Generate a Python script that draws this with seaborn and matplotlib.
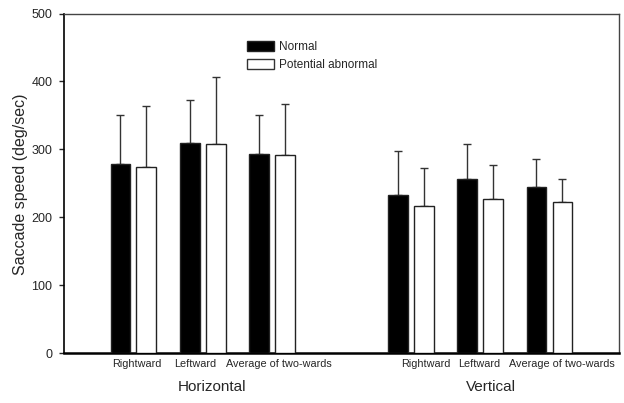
import matplotlib
matplotlib.use("Agg")
import matplotlib.pyplot as plt
import matplotlib.transforms as mtransforms
from matplotlib.patches import Patch
import seaborn as sns
import pandas as pd
import numpy as np

# ---- data ----
conditions = ["H Rightward", "H Leftward", "H Average", "V Rightward", "V Leftward", "V Average"]
tick_labels = ["Rightward", "Leftward", "Average of two-wards"]
groups = ["Normal", "Potential abnormal"]
normal_mean = [278, 310, 293, 232, 256, 244]
normal_sd = [72, 62, 57, 65, 52, 42]
abnormal_mean = [274, 308, 291, 216, 227, 222]
abnormal_sd = [90, 98, 75, 56, 50, 35]
axis_groups = ["Horizontal", "Vertical"]

sns.set_style("white")
plt.rcParams['font.family'] = ['Liberation Sans', 'DejaVu Sans']

df = pd.DataFrame({
    "cond": conditions * 2,
    "speed": normal_mean + abnormal_mean,
    "group": [groups[0]] * 6 + [groups[1]] * 6,
})
order = conditions[:3] + ["__gap__"] + conditions[3:]

fig = plt.figure(figsize=(6.24, 4.03), dpi=100)
ax = fig.add_axes([0.1026, 0.124, 0.889, 0.8425])

sns.barplot(data=df, x="cond", y="speed", hue="group", order=order,
            hue_order=groups, palette={groups[0]: "black", groups[1]: "white"},
            edgecolor="#222222", linewidth=1.0, width=0.748, gap=0.238,
            legend=False, ax=ax, zorder=3)

errs = [normal_sd, abnormal_sd]
for cont, err in zip(ax.containers, errs):
    xs = [b.get_x() + b.get_width() / 2 for b in cont]
    hs = [b.get_height() for b in cont]
    ax.errorbar(xs, hs, yerr=[np.zeros(len(err)), err], fmt="none",
                ecolor="#333333", elinewidth=1.0, capsize=2.8, capthick=1.0, zorder=2)

ax.set_xlim(-1, 7)
ax.set_ylim(0, 500)
ax.set_yticks([0, 100, 200, 300, 400, 500])
# label positions as placed in the original (slightly off the group centres)
ax.set_xticks([0.043, 0.898, 2.095, 4.214, 4.988, 6.186])
ax.set_xticklabels(tick_labels + tick_labels, fontsize=7.8)
ax.tick_params(axis="x", length=0, pad=4.5)
ax.tick_params(axis="y", length=3.5, width=1, direction="out", pad=5, labelsize=9, left=True)
ax.set_xlabel("")
ax.set_ylabel("")
fig.text(21 / 624, 1 - 184 / 403, "Saccade speed (deg/sec)", rotation=90,
         ha="center", va="center", fontsize=11.5)

for side in ["left", "bottom", "top", "right"]:
    ax.spines[side].set_visible(True)
ax.spines["bottom"].set_linewidth(1.8)
ax.spines["bottom"].set_color("black")
ax.spines["left"].set_linewidth(1.2)
ax.spines["left"].set_color("black")
ax.spines["top"].set_linewidth(1.0)
ax.spines["top"].set_color("#444444")
ax.spines["right"].set_linewidth(1.0)
ax.spines["right"].set_color("#444444")

trans = mtransforms.blended_transform_factory(ax.transData, ax.transAxes)
ax.text(1.14, -0.1, axis_groups[0], transform=trans, ha="center", va="center", fontsize=11)
ax.text(5.16, -0.1, axis_groups[1], transform=trans, ha="center", va="center", fontsize=11)

handles = [Patch(facecolor="black", edgecolor="#222222", linewidth=1.0),
           Patch(facecolor="white", edgecolor="#333333", linewidth=1.0)]
fig.legend(handles, groups, loc="upper left",
           bbox_to_anchor=(247 / 624, 1 - 41 / 403), frameon=False, fontsize=8.5,
           handlelength=2.25, handleheight=0.85, handletextpad=0.45, labelspacing=0.5,
           borderpad=0, borderaxespad=0)

fig.savefig("out.png", dpi=100)
